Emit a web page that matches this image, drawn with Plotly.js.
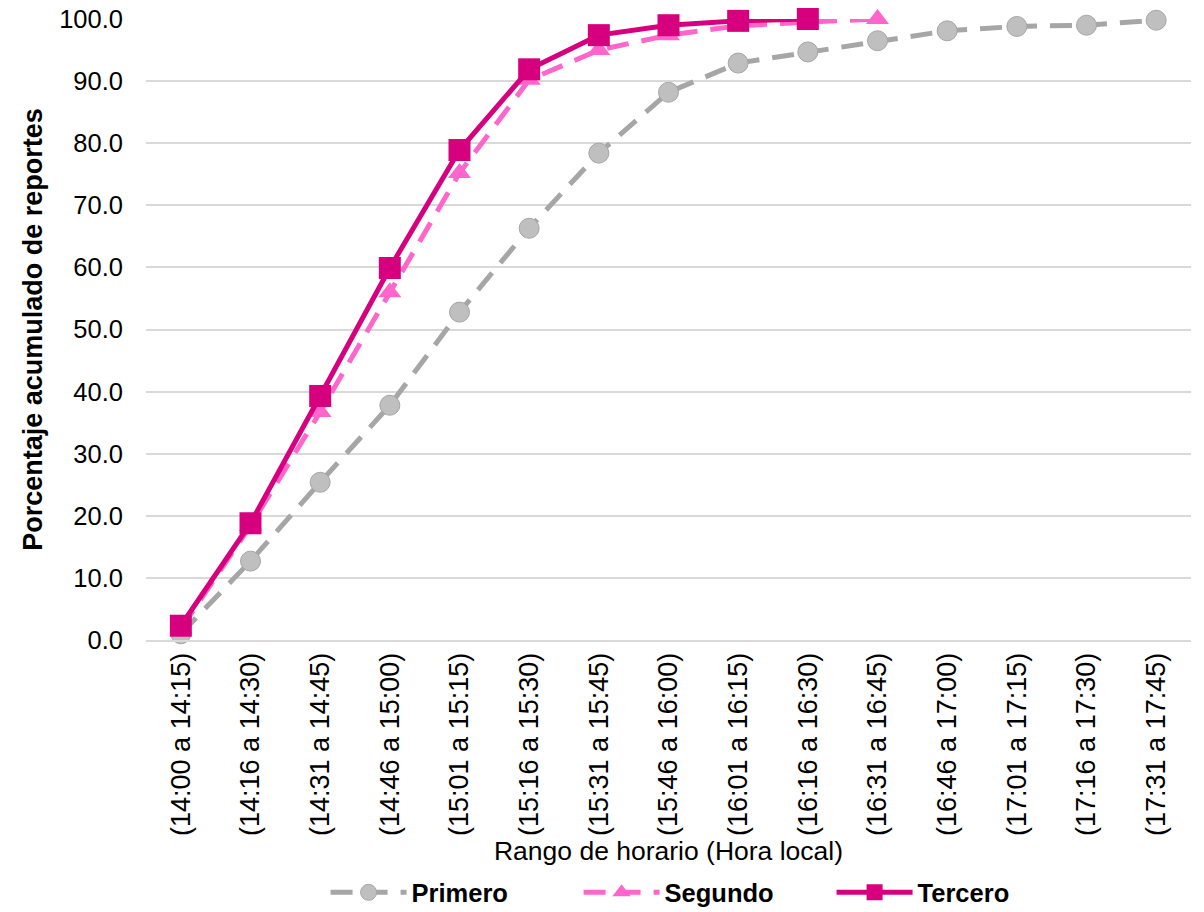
<!DOCTYPE html>
<html>
<head>
<meta charset="utf-8">
<script src="https://cdn.plot.ly/plotly-3.0.1.min.js"></script>
<style>
html,body{margin:0;padding:0;background:#fff;}
#chart{width:1204px;height:912px;}
</style>
</head>
<body>
<div id="chart"></div>
<script>
const categories = ["(14:00 a 14:15)","(14:16 a 14:30)","(14:31 a 14:45)","(14:46 a 15:00)","(15:01 a 15:15)","(15:16 a 15:30)","(15:31 a 15:45)","(15:46 a 16:00)","(16:01 a 16:15)","(16:16 a 16:30)","(16:31 a 16:45)","(16:46 a 17:00)","(17:01 a 17:15)","(17:16 a 17:30)","(17:31 a 17:45)"];
const primero = [1.0, 12.7, 25.4, 37.8, 52.8, 66.3, 78.4, 88.2, 92.9, 94.7, 96.5, 98.1, 98.8, 99.0, 99.8];
const segundo = [1.8, 18.4, 36.7, 56.0, 75.2, 90.2, 95.0, 97.4, 98.9, 99.5, 100.0];
const tercero = [2.3, 18.8, 39.3, 59.9, 78.9, 91.9, 97.4, 99.0, 99.7, 100.0];

const FONT = "Liberation Sans, Arial, sans-serif";

const traces = [
  {
    x: categories.slice(0, primero.length), y: primero, name: "Primero",
    type: "scatter", mode: "lines+markers", cliponaxis: false,
    line: {color: "#A6A6A6", width: 5, dash: "22px,13px"},
    marker: {symbol: "circle", size: 20, color: "#BFBFBF", line: {color: "#A6A6A6", width: 1}}
  },
  {
    x: categories.slice(0, segundo.length), y: segundo, name: "Segundo",
    type: "scatter", mode: "lines+markers", cliponaxis: false,
    line: {color: "#FF66CC", width: 5, dash: "22px,13px"},
    marker: {symbol: "triangle-up", size: 20, color: "#FF66CC"}
  },
  {
    x: categories.slice(0, tercero.length), y: tercero, name: "Tercero",
    type: "scatter", mode: "lines+markers", cliponaxis: false,
    line: {color: "#D6007F", width: 5},
    marker: {symbol: "square", size: 22, color: "#D6007F"}
  }
];

const layout = {
  width: 1204, height: 912,
  margin: {l: 146, r: 13, t: 19, b: 272, autoexpand: false},
  paper_bgcolor: "#ffffff", plot_bgcolor: "#ffffff",
  font: {family: FONT, size: 25, color: "#000000"},
  showlegend: true,
  legend: {
    orientation: "h", x: 0.535, xanchor: "center", y: -0.407, yanchor: "middle",
    font: {family: FONT, size: 25.5, color: "#000000", weight: "bold"},
    itemwidth: 76, entrywidth: 162, entrywidthmode: "pixels",
    traceorder: "normal", bgcolor: "rgba(0,0,0,0)"
  },
  xaxis: {
    type: "category", categoryorder: "array", categoryarray: categories,
    range: [-0.5, 14.5],
    tickangle: -90, tickfont: {family: FONT, size: 27, color: "#000000"},
    showgrid: false, showline: true, linecolor: "#D9D9D9", linewidth: 2,
    ticks: "", zeroline: false,
    title: {text: "Rango de horario (Hora local)", font: {family: FONT, size: 26.5, color: "#000000"}, standoff: 6}
  },
  yaxis: {
    range: [0, 100], dtick: 10, tick0: 0, tickformat: ".1f",
    tickfont: {family: FONT, size: 25.5, color: "#000000"},
    showgrid: true, gridcolor: "#D9D9D9", gridwidth: 2,
    zeroline: false, showline: false, ticks: "", ticklabelstandoff: 22,
    title: {text: "Porcentaje acumulado de reportes", font: {family: FONT, size: 27, color: "#000000", weight: "bold"}, standoff: 8}
  }
};

Plotly.newPlot("chart", traces, layout, {displayModeBar: false, responsive: false});
</script>
</body>
</html>
